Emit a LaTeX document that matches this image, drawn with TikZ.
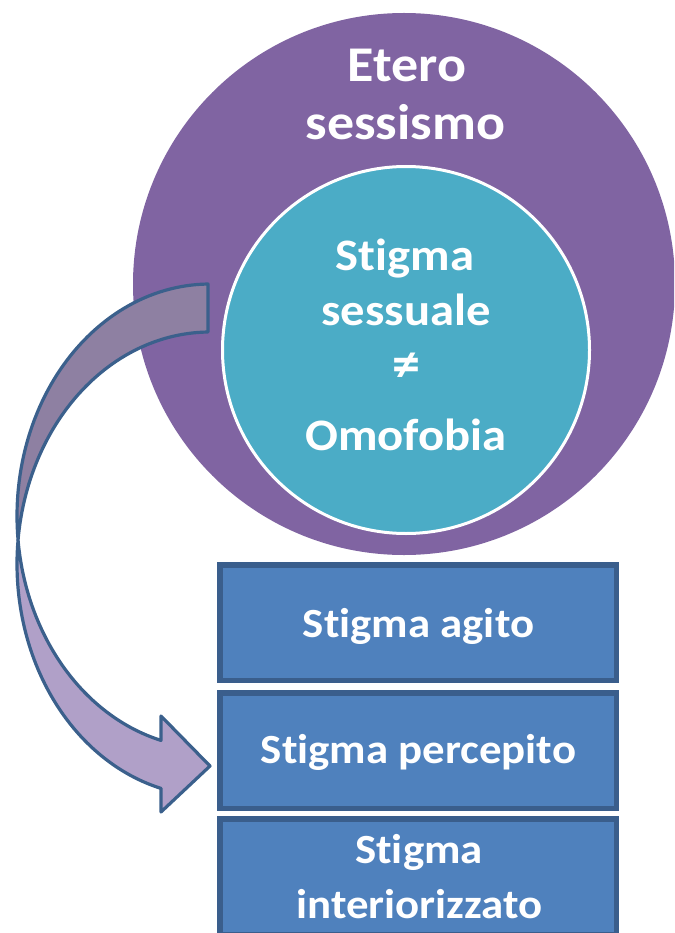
\documentclass[tikz,border=0pt]{standalone}
\usepackage{fontspec}
\setmainfont{Carlito}[FakeStretch=1.08,Ligatures=NoCommon]

\definecolor{eterocol}{RGB}{128,100,162}
\definecolor{stigmacol}{RGB}{75,172,198}
\definecolor{boxfill}{RGB}{79,129,189}
\definecolor{boxline}{RGB}{58,94,140}
\definecolor{arrowdark}{RGB}{142,128,162}
\definecolor{arrowlight}{RGB}{176,160,200}
\definecolor{arrowline}{RGB}{59,96,140}

\begin{document}
\begin{tikzpicture}[x=1pt,y=-1pt,
    lbl/.style={text=white,inner sep=0pt,anchor=base},
    bigtext/.style={lbl,font=\fontsize{50}{60}\selectfont\bfseries},
    midtext/.style={lbl,font=\fontsize{45}{54}\selectfont\bfseries},
    boxtext/.style={lbl,font=\fontsize{41.5}{50}\selectfont\bfseries},
    stigmabox/.style={rectangle,fill=boxfill,draw=boxline,line width=5.5pt,
        minimum width=396.5pt,minimum height=115.5pt,inner sep=0pt},
    bandline/.style={draw=arrowline,line width=3.2pt,line join=round}]
    \useasboundingbox (0,0) rectangle (674,933);
    \clip (0,0) rectangle (674,933);

    \node[circle,fill=eterocol,minimum size=542pt,inner sep=0pt] (etero) at (404,284) {};
    \node[circle,fill=stigmacol,draw=white,line width=3pt,minimum size=367pt,inner sep=0pt] (stigma) at (406,350) {};

    \foreach \y/\n in {622.5/agito,750.5/percepito,876.5/interiorizzato} {
        \node[stigmabox] (\n) at (418,\y) {};
    }

    \node[bigtext] (etero1) at (407,82) {Etero};
    \node[bigtext] (etero2) at (405.5,139.6) {sessismo};

    \node[midtext] (stigma1) at (405,270) {Stigma};
    \node[midtext] (stigma2) at (406,325) {sessuale};
    \node[lbl,anchor=center,font=\fontsize{52}{60}\selectfont\bfseries] (stigma3) at (406,367) {≠};
    \node[midtext] (stigma4) at (406,450.5) {Omofobia};

    \node[boxtext] (agito1) at (418.5,637) {Stigma agito};
    \node[boxtext] (percepito1) at (418.5,763) {Stigma percepito};
    \node[boxtext] (interiorizzato1) at (419,863) {Stigma};
    \node[boxtext] (interiorizzato2) at (419.5,918) {interiorizzato};

    \draw[bandline,fill=arrowdark]
        plot[variable=\t,domain=269.4:174.06,samples=60] ({210+193*cos(\t)},{516+232*sin(\t)})
        -- plot[variable=\t,domain=185.94:269.4,samples=60] ({210+193*cos(\t)},{564+232*sin(\t)})
        -- cycle;
    \draw[bandline,fill=arrowlight]
        plot[variable=\t,domain=174.06:104.7,samples=60] ({210+193*cos(\t)},{516+232*sin(\t)})
        -- (161,716) -- (210,766) -- (161,812)
        -- plot[variable=\t,domain=104.7:185.94,samples=60] ({210+193*cos(\t)},{564+232*sin(\t)})
        -- cycle;
\end{tikzpicture}
\end{document}
